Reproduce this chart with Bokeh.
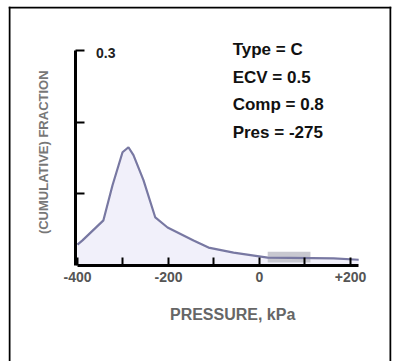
import math
from bokeh.plotting import figure
from bokeh.models import Range1d, FixedTicker, Label, Span
from bokeh.embed import file_html
from bokeh.resources import INLINE

# ---- data ----
pressure = [-400, -389, -343, -323, -301, -288, -277, -255, -229, -202,
            -145, -112, -57, 18, 163, 218]
density = [0.029, 0.035, 0.063, 0.112, 0.158, 0.165, 0.154, 0.119, 0.067, 0.053,
           0.035, 0.025, 0.018, 0.011, 0.010, 0.008]
band_x = [18, 112]
band_y = [0.004, 0.019]
x_ticks = [-400, -200, 0, 200]
x_tick_labels = ["-400", "-200", "0", "+200"]
x_minor_ticks = [-300, -100, 100]
y_ticks = [0.1, 0.2, 0.3]
y_top_label = "0.3"
notes = ["Type = C", "ECV = 0.5", "Comp = 0.8", "Pres = -275"]
x_title = "PRESSURE, kPa"
y_title = "(CUMULATIVE) FRACTION"

FONT = "Liberation Sans"

p = figure(width=397, height=361, output_backend="svg", toolbar_location=None,
           x_range=Range1d(-551.6, 290.1), y_range=Range1d(-0.134, 0.3614),
           min_border_left=8, min_border_right=6, min_border_top=6, min_border_bottom=0,
           background_fill_color="white", border_fill_color="white")
p.outline_line_color = None
p.xgrid.visible = False
p.ygrid.visible = False

# outer box (three sides), pulled one pixel inside the frame
px_x = (p.x_range.end - p.x_range.start) / 383.0
px_y = (p.y_range.end - p.y_range.start) / 355.0
for loc, dim in [(p.x_range.start + px_x, "height"), (p.x_range.end - px_x, "height"),
                 (p.y_range.end - px_y, "width")]:
    p.add_layout(Span(location=loc, dimension=dim, line_color="black", line_width=2))

# curve and fill
p.varea(x=pressure, y1=0, y2=density, fill_color="#f1f0fa")
p.quad(left=band_x[0], right=band_x[1], bottom=band_y[0], top=band_y[1],
       fill_color="#c8c8d0", line_color=None)
p.line(pressure, density, line_color="#7878a2", line_width=2.2)

# x axis
xa = p.xaxis[0]
xa.fixed_location = 0
xa.bounds = (-400, 218)
xa.ticker = FixedTicker(ticks=x_ticks, minor_ticks=x_minor_ticks)
xa.major_label_overrides = {t: l for t, l in zip(x_ticks, x_tick_labels)}
xa.axis_line_width = 3
xa.axis_line_color = "black"
xa.major_tick_in = 8
xa.major_tick_out = 0
xa.minor_tick_in = 8
xa.minor_tick_out = 0
xa.major_tick_line_width = 2
xa.minor_tick_line_width = 2
xa.major_label_text_font = FONT
xa.major_label_text_font_size = "14px"
xa.major_label_text_font_style = "bold"
xa.major_label_text_color = "#555555"
xa.major_label_standoff = 7

# y axis
ya = p.yaxis[0]
ya.fixed_location = -404
ya.bounds = (0, 0.3)
ya.ticker = FixedTicker(ticks=y_ticks, minor_ticks=[])
ya.major_label_overrides = {t: "" for t in y_ticks}
ya.axis_line_width = 3
ya.axis_line_color = "black"
ya.major_tick_in = 9
ya.major_tick_out = 0
ya.major_tick_line_width = 2
ya.minor_tick_in = 0
ya.minor_tick_out = 0

# texts
p.add_layout(Label(x=-338, y=0.297, text=y_top_label, text_align="center", text_baseline="middle",
                   text_font=FONT, text_font_size="14px", text_font_style="bold",
                   text_color="#222222"))
p.add_layout(Label(x=-59, y=-0.0684, text=x_title, text_align="center", text_baseline="middle",
                   text_font=FONT, text_font_size="16px", text_font_style="bold",
                   text_color="#666666"))
p.add_layout(Label(x=-474.7, y=0.158, text=y_title, angle=math.pi / 2,
                   text_align="center", text_baseline="middle",
                   text_font=FONT, text_font_size="13px", text_font_style="bold",
                   text_color="#777777"))
for i, t in enumerate(notes):
    p.add_layout(Label(x=-59, y=0.301 - i * 0.0385, text=t, text_align="left",
                       text_baseline="middle", text_font=FONT, text_font_size="17px",
                       text_font_style="bold", text_color="#111111"))

open("out.html", "w").write(file_html(p, INLINE))
